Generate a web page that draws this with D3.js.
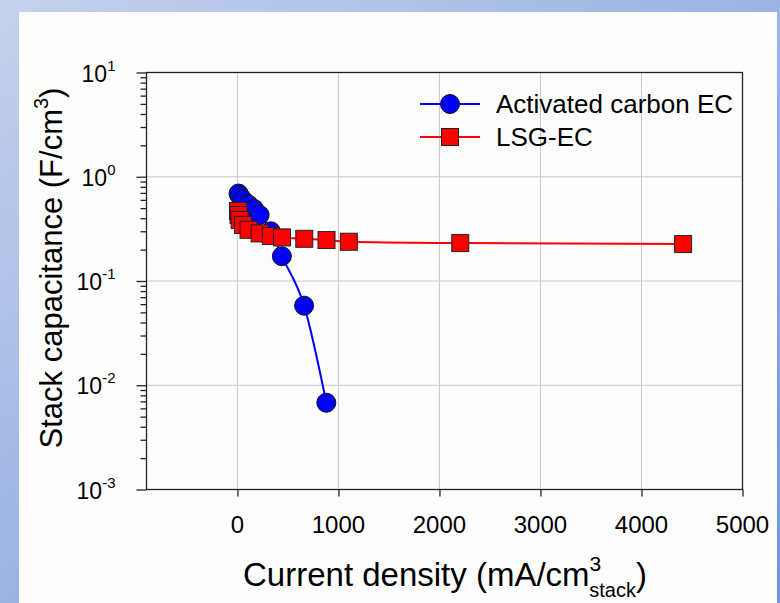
<!DOCTYPE html>
<html>
<head>
<meta charset="utf-8">
<script src="https://cdn.jsdelivr.net/npm/d3@7"></script>
<style>
    body { margin: 0; }
    text { font-family: "Liberation Sans", Arial, sans-serif; fill: #000; }
</style>
</head>
<body>
<div id="chart"></div>
<script>
// activated carbon EC
var acX = [11, 22, 55, 110, 165, 220, 330, 440, 660, 880];
var acY = [0.69, 0.66, 0.6, 0.54, 0.49, 0.43, 0.30, 0.173, 0.058, 0.0068];
// LSG-EC
var lsgX = [5.5, 11, 22, 55, 110, 220, 331, 441, 662, 882, 1103, 2206, 4412];
var lsgY = [0.47, 0.43, 0.385, 0.345, 0.31, 0.286, 0.27, 0.262, 0.254, 0.247, 0.238, 0.231, 0.226];

var xTicks = [0, 1000, 2000, 3000, 4000, 5000];
var yTicks = [-3, -2, -1, 0, 1];

var W = 780, H = 603;
var margin = { top: 72.5, left: 146.5, bottom: 113.5, right: 37.5 },
    width = W - margin.left - margin.right,
    height = H - margin.top - margin.bottom;

var root = d3.select('#chart').append('svg')
    .attr('width', W)
    .attr('height', H);

var grad = root.append('defs').append('linearGradient')
    .attr('id', 'bg')
    .attr('x1', 0).attr('y1', 0).attr('x2', 1).attr('y2', 1);
grad.append('stop').attr('offset', '0%').attr('stop-color', '#c6d2ed');
grad.append('stop').attr('offset', '100%').attr('stop-color', '#6f96d8');

root.append('rect').attr('width', W).attr('height', H).attr('fill', 'url(#bg)');
root.append('rect')
    .attr('x', 19).attr('y', 12)
    .attr('width', 758).attr('height', H - 12)
    .attr('fill', '#fdfdfd');

var svg = root.append('g')
    .attr('transform', 'translate(' + margin.left + ',' + margin.top + ')');

var x = d3.scaleLinear().domain([-900, 5000]).range([0, width]);
var y = d3.scaleLog().domain([1e-3, 10]).range([height, 0]);

// grid
svg.selectAll('.vgrid')
    .data(xTicks.slice(0, -1))
    .enter().append('line')
    .attr('class', 'vgrid')
    .attr('x1', d => x(d)).attr('x2', d => x(d))
    .attr('y1', 0).attr('y2', height)
    .attr('stroke', '#c8c8c8').attr('stroke-width', 1);

svg.selectAll('.hgrid')
    .data(yTicks.slice(1, -1))
    .enter().append('line')
    .attr('class', 'hgrid')
    .attr('x1', 0).attr('x2', width)
    .attr('y1', d => y(Math.pow(10, d))).attr('y2', d => y(Math.pow(10, d)))
    .attr('stroke', '#c8c8c8').attr('stroke-width', 1);

// axes
var xAxis = d3.axisBottom(x)
    .tickValues(xTicks)
    .tickSize(7)
    .tickFormat('');

svg.append('g')
    .attr('class', 'axis')
    .attr('transform', 'translate(0,' + height + ')')
    .call(xAxis)
    .call(g => g.select('.domain').remove());

var minor = [];
yTicks.slice(0, -1).forEach(e => {
    for (var k = 2; k <= 9; k++) minor.push(k * Math.pow(10, e));
});

svg.append('g')
    .attr('class', 'axis')
    .call(d3.axisLeft(y).tickValues(minor).tickSize(6).tickFormat(''))
    .call(g => g.select('.domain').remove());

svg.append('g')
    .attr('class', 'axis')
    .call(d3.axisLeft(y).tickValues(yTicks.map(e => Math.pow(10, e))).tickSize(10).tickFormat(''))
    .call(g => g.select('.domain').remove());

svg.selectAll('.axis line').attr('stroke', '#222').attr('stroke-width', 1.3);

svg.append('rect')
    .attr('width', width).attr('height', height)
    .attr('fill', 'none')
    .attr('stroke', '#222').attr('stroke-width', 1.3);

// tick labels
svg.selectAll('.xlab')
    .data(xTicks)
    .enter().append('text')
    .attr('class', 'xlab')
    .attr('x', d => x(d))
    .attr('y', height + 43)
    .attr('text-anchor', 'middle')
    .style('font-size', '24px')
    .text(d => d);

var ylab = svg.selectAll('.ylab')
    .data(yTicks)
    .enter().append('text')
    .attr('class', 'ylab')
    .attr('x', -31)
    .attr('y', d => y(Math.pow(10, d)) + 9)
    .attr('text-anchor', 'end')
    .style('font-size', '23px');
ylab.append('tspan').text('10');
ylab.append('tspan')
    .attr('dy', -11)
    .style('font-size', '15px')
    .text(d => d);

// series
var line = d3.line()
    .x(d => x(d[0]))
    .y(d => y(d[1]))
    .curve(d3.curveMonotoneX);

var ac = acX.map((v, i) => [v, acY[i]]);
var lsg = lsgX.map((v, i) => [v, lsgY[i]]);

svg.append('path')
    .datum(ac)
    .attr('d', line)
    .attr('fill', 'none')
    .attr('stroke', '#0000ff').attr('stroke-width', 2);

svg.selectAll('.ac')
    .data(ac)
    .enter().append('circle')
    .attr('class', 'ac')
    .attr('cx', d => x(d[0]))
    .attr('cy', d => y(d[1]))
    .attr('r', 9.5)
    .attr('fill', '#0000ff')
    .attr('stroke', '#111').attr('stroke-width', 1);

svg.append('path')
    .datum(lsg)
    .attr('d', line)
    .attr('fill', 'none')
    .attr('stroke', '#ff0000').attr('stroke-width', 2);

svg.selectAll('.lsg')
    .data(lsg)
    .enter().append('rect')
    .attr('class', 'lsg')
    .attr('x', d => x(d[0]) - 8.5)
    .attr('y', d => y(d[1]) - 8.5)
    .attr('width', 17).attr('height', 17)
    .attr('fill', '#ff0000')
    .attr('stroke', '#222').attr('stroke-width', 1);

// legend
var legend = root.append('g');
legend.append('line')
    .attr('x1', 420).attr('x2', 480).attr('y1', 104).attr('y2', 104)
    .attr('stroke', '#0000ff').attr('stroke-width', 2);
legend.append('circle')
    .attr('cx', 450).attr('cy', 104).attr('r', 9.5)
    .attr('fill', '#0000ff').attr('stroke', '#111');
legend.append('text')
    .attr('x', 496).attr('y', 113)
    .style('font-size', '26px')
    .text('Activated carbon EC');

legend.append('line')
    .attr('x1', 420).attr('x2', 480).attr('y1', 137).attr('y2', 137)
    .attr('stroke', '#ff0000').attr('stroke-width', 2);
legend.append('rect')
    .attr('x', 441.5).attr('y', 128.5).attr('width', 17).attr('height', 17)
    .attr('fill', '#ff0000').attr('stroke', '#222');
legend.append('text')
    .attr('x', 496).attr('y', 146)
    .style('font-size', '26px')
    .text('LSG-EC');

// axis titles
var xt = root.append('text')
    .attr('x', 445).attr('y', 586)
    .attr('text-anchor', 'middle')
    .style('font-size', '33px');
xt.append('tspan').text('Current density (mA/cm');
xt.append('tspan').attr('dy', -15).style('font-size', '21px').text('3');
xt.append('tspan').attr('dx', -12).attr('dy', 26).style('font-size', '20px').text('stack');
xt.append('tspan').attr('dy', -11).text(')');

var yt = root.append('text')
    .attr('transform', 'translate(62,268) rotate(-90)')
    .attr('text-anchor', 'middle')
    .style('font-size', '31px');
yt.append('tspan').text('Stack capacitance (F/cm');
yt.append('tspan').attr('dy', -14).style('font-size', '20px').text('3');
yt.append('tspan').attr('dy', 14).text(')');
</script>
</body>
</html>
